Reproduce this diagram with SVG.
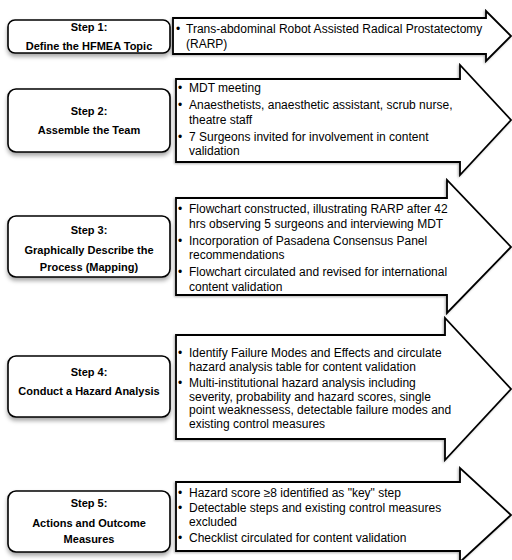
<svg xmlns="http://www.w3.org/2000/svg" width="512" height="560" viewBox="0 0 512 560">
<defs>
<filter id="sh" x="-10%" y="-20%" width="130%" height="160%">
<feDropShadow dx="0" dy="3" stdDeviation="2.2" flood-color="#000" flood-opacity="0.35"/>
</filter>
<filter id="sh2" x="-5%" y="-10%" width="110%" height="130%">
<feDropShadow dx="-1" dy="1" stdDeviation="0.8" flood-color="#000" flood-opacity="0.3"/>
</filter>
</defs>
<style>
.box{fill:#fff;stroke:#000;stroke-width:1.6}
.arr{fill:#fff;stroke:#000;stroke-width:1.8;stroke-linejoin:miter}
.lbl{font-family:"Liberation Sans",Arial,sans-serif;font-weight:bold;font-size:11px;fill:#000;text-anchor:middle}
.txt{font-family:"Liberation Sans",Arial,sans-serif;font-size:12px;fill:#000}
</style>
<rect width="512" height="560" fill="#fff"/>
<g id="connectors"/>

<g id="step1">
<rect class="box" x="8" y="20" width="162" height="33" rx="7" filter="url(#sh)"/>
<text class="lbl" x="89" y="31">Step 1:</text>
<text class="lbl" x="89" y="50">Define the HFMEA Topic</text>
</g>
<g id="arrow1">
<path class="arr" d="M173,18 H486 V11 L511,36 L486,61 V54 H173 Z" filter="url(#sh2)"/>
<text class="txt" x="176" y="33">•</text>
<text class="txt" x="186" y="33">Trans-abdominal Robot Assisted Radical Prostatectomy</text>
<text class="txt" x="186" y="48">(RARP)</text>
</g>

<g id="step2">
<rect class="box" x="8" y="89" width="162" height="63" rx="8" filter="url(#sh)"/>
<text class="lbl" x="89" y="115">Step 2:</text>
<text class="lbl" x="89" y="134">Assemble the Team</text>
</g>
<g id="arrow2">
<path class="arr" d="M176,79 H460 V65 L511,120 L460,175 V162 H176 Z" filter="url(#sh2)"/>
<text class="txt" x="178" y="92">•</text>
<text class="txt" x="189" y="92">MDT meeting</text>
<text class="txt" x="178" y="109">•</text>
<text class="txt" x="189" y="109">Anaesthetists, anaesthetic assistant, scrub nurse,</text>
<text class="txt" x="189" y="123.5">theatre staff</text>
<text class="txt" x="178" y="140.5">•</text>
<text class="txt" x="189" y="140.5">7 Surgeons invited for involvement in content</text>
<text class="txt" x="189" y="155">validation</text>
</g>

<g id="step3">
<rect class="box" x="8" y="216" width="162" height="61" rx="8" filter="url(#sh)"/>
<text class="lbl" x="89" y="234">Step 3:</text>
<text class="lbl" x="89" y="254">Graphically Describe the</text>
<text class="lbl" x="89" y="271">Process (Mapping)</text>
</g>
<g id="arrow3">
<path class="arr" d="M176,198 H447 V180 L511,247 L447,313 V295 H176 Z" filter="url(#sh2)"/>
<text class="txt" x="178" y="213">•</text>
<text class="txt" x="189" y="213">Flowchart constructed, illustrating RARP after 42</text>
<text class="txt" x="189" y="227.5">hrs observing 5 surgeons and interviewing MDT</text>
<text class="txt" x="178" y="244.5">•</text>
<text class="txt" x="189" y="244.5">Incorporation of Pasadena Consensus Panel</text>
<text class="txt" x="189" y="259">recommendations</text>
<text class="txt" x="178" y="276">•</text>
<text class="txt" x="189" y="276">Flowchart circulated and revised for international</text>
<text class="txt" x="189" y="290.5">content validation</text>
</g>

<g id="step4">
<rect class="box" x="8" y="356" width="162" height="61" rx="8" filter="url(#sh)"/>
<text class="lbl" x="89" y="376">Step 4:</text>
<text class="lbl" x="89" y="395">Conduct a Hazard Analysis</text>
</g>
<g id="arrow4">
<path class="arr" d="M176,335 H445 V318 L511,389 L445,460 V439 H176 Z" filter="url(#sh2)"/>
<text class="txt" x="178" y="356.5">•</text>
<text class="txt" x="189" y="356.5">Identify Failure Modes and Effects and circulate</text>
<text class="txt" x="189" y="370.5">hazard analysis table for content validation</text>
<text class="txt" x="178" y="386.5">•</text>
<text class="txt" x="189" y="386.5">Multi-institutional hazard analysis including</text>
<text class="txt" x="189" y="400.5">severity, probability and hazard scores, single</text>
<text class="txt" x="189" y="414">point weaknessess, detectable failure modes and</text>
<text class="txt" x="189" y="427.5">existing control measures</text>
</g>

<g id="step5">
<rect class="box" x="8" y="491" width="162" height="61" rx="8" filter="url(#sh)"/>
<text class="lbl" x="89" y="507">Step 5:</text>
<text class="lbl" x="89" y="527">Actions and Outcome</text>
<text class="lbl" x="89" y="543">Measures</text>
</g>
<g id="arrow5">
<path class="arr" d="M176,482 H460 V468 L511,515 L460,562 V551 H176 Z" filter="url(#sh2)"/>
<text class="txt" x="178" y="497">•</text>
<text class="txt" x="189" y="497">Hazard score ≥8 identified as "key" step</text>
<text class="txt" x="178" y="512">•</text>
<text class="txt" x="189" y="512">Detectable steps and existing control measures</text>
<text class="txt" x="189" y="526">excluded</text>
<text class="txt" x="178" y="542">•</text>
<text class="txt" x="189" y="542">Checklist circulated for content validation</text>
</g>
</svg>
